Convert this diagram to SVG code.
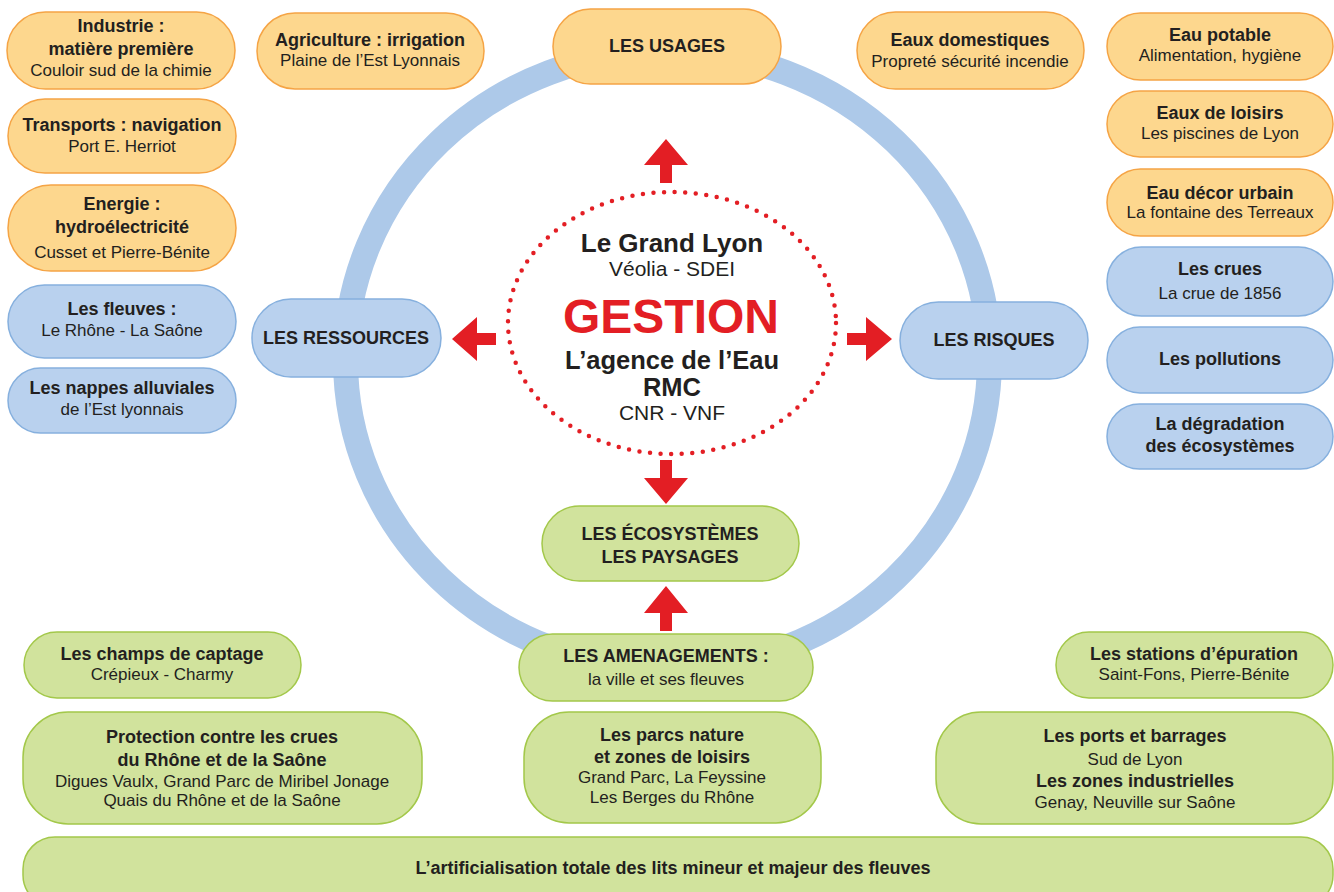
<svg xmlns="http://www.w3.org/2000/svg" width="1334" height="892" viewBox="0 0 1334 892">
<style>
text{font-family:"Liberation Sans",Arial,Helvetica,sans-serif;fill:#231f20;text-anchor:middle}
.b{font-weight:bold;font-size:18px}
.r{font-size:17px}
.o{fill:#fdd78e;stroke:#f5a445;stroke-width:1.5}
.u{fill:#b9d1ee;stroke:#86b0de;stroke-width:1.5}
.g{fill:#d1e39d;stroke:#a3c84a;stroke-width:1.5}
.arrow{fill:#e31e24}
</style>
<rect width="1334" height="892" fill="#ffffff"/>
<g id="ring">
<ellipse cx="667.5" cy="360" rx="322" ry="309" fill="none" stroke="#adc9e9" stroke-width="25"/>
</g>
<g id="gestion">
<ellipse cx="672" cy="323" rx="164" ry="131" fill="none" stroke="#e31e24" stroke-width="4.5" stroke-linecap="round" stroke-dasharray="0 10.6"/>
<text x="672" y="252" style="font-weight:bold;font-size:26px">Le Grand Lyon</text>
<text x="672" y="276" style="font-size:21px">Véolia - SDEI</text>
<text x="671" y="333" style="font-weight:bold;font-size:48px;fill:#e31e24">GESTION</text>
<text x="672" y="369" style="font-weight:bold;font-size:25.5px">L’agence de l’Eau</text>
<text x="672" y="396" style="font-weight:bold;font-size:25.5px">RMC</text>
<text x="672" y="420" style="font-size:21px">CNR - VNF</text>
</g>
<g id="connectors">
<polygon class="arrow" points="666,139 688,165 672,165 672,183 660,183 660,165 644,165"/>
<polygon class="arrow" points="660,460 672,460 672,478 688,478 666,504 644,478 660,478"/>
<polygon class="arrow" points="452,339 477,317 477,333 496,333 496,345 477,345 477,361"/>
<polygon class="arrow" points="847,333 866,333 866,317 892,339 866,361 866,345 847,345"/>
<polygon class="arrow" points="666,586 688,613 672,613 672,631 660,631 660,613 644,613"/>
</g>
<g id="industrie"><rect class="o" x="7" y="12" width="228" height="77" rx="38.5"/>
<text class="b" x="121" y="32">Industrie :</text><text class="b" x="121" y="55">matière première</text><text class="r" x="121" y="76">Couloir sud de la chimie</text></g>
<g id="agriculture"><rect class="o" x="257" y="13" width="227" height="76" rx="38"/>
<text class="b" x="370" y="46">Agriculture : irrigation</text><text class="r" x="370" y="66">Plaine de l’Est Lyonnais</text></g>
<g id="usages"><rect class="o" x="553" y="9" width="228" height="75" rx="37.5"/>
<text class="b" x="667" y="52">LES USAGES</text></g>
<g id="domestiques"><rect class="o" x="857" y="12" width="227" height="77" rx="38.5"/>
<text class="b" x="970" y="46">Eaux domestiques</text><text class="r" x="970" y="67">Propreté sécurité incendie</text></g>
<g id="potable"><rect class="o" x="1107" y="13" width="226" height="67" rx="33.5"/>
<text class="b" x="1220" y="41">Eau potable</text><text class="r" x="1220" y="61">Alimentation, hygiène</text></g>
<g id="loisirs"><rect class="o" x="1107" y="91" width="226" height="66" rx="33"/>
<text class="b" x="1220" y="119">Eaux de loisirs</text><text class="r" x="1220" y="139">Les piscines de Lyon</text></g>
<g id="decor"><rect class="o" x="1107" y="169" width="226" height="67" rx="33.5"/>
<text class="b" x="1220" y="199">Eau décor urbain</text><text class="r" x="1220" y="218">La fontaine des Terreaux</text></g>
<g id="transports"><rect class="o" x="8" y="99" width="228" height="74" rx="37"/>
<text class="b" x="122" y="131">Transports : navigation</text><text class="r" x="122" y="152">Port E. Herriot</text></g>
<g id="energie"><rect class="o" x="8" y="185" width="228" height="86" rx="43"/>
<text class="b" x="122" y="210">Energie :</text><text class="b" x="122" y="233">hydroélectricité</text><text class="r" x="122" y="258">Cusset et Pierre-Bénite</text></g>
<g id="fleuves"><rect class="u" x="8" y="285" width="228" height="73" rx="36.5"/>
<text class="b" x="122" y="315">Les fleuves :</text><text class="r" x="122" y="336">Le Rhône - La Saône</text></g>
<g id="nappes"><rect class="u" x="8" y="368" width="228" height="65" rx="32.5"/>
<text class="b" x="122" y="394">Les nappes alluviales</text><text class="r" x="122" y="415">de l’Est lyonnais</text></g>
<g id="ressources"><rect class="u" x="252" y="299" width="189" height="78" rx="39"/>
<text class="b" x="346" y="344">LES RESSOURCES</text></g>
<g id="risques"><rect class="u" x="900" y="302" width="188" height="77" rx="38.5"/>
<text class="b" x="994" y="346">LES RISQUES</text></g>
<g id="crues"><rect class="u" x="1107" y="247" width="226" height="69" rx="34.5"/>
<text class="b" x="1220" y="275">Les crues</text><text class="r" x="1220" y="299">La crue de 1856</text></g>
<g id="pollutions"><rect class="u" x="1107" y="327" width="226" height="66" rx="33"/>
<text class="b" x="1220" y="365">Les pollutions</text></g>
<g id="degradation"><rect class="u" x="1107" y="404" width="226" height="65" rx="32.5"/>
<text class="b" x="1220" y="430">La dégradation</text><text class="b" x="1220" y="452">des écosystèmes</text></g>
<g id="ecosystemes"><rect class="g" x="542" y="506" width="257" height="75" rx="37.5"/>
<text class="b" x="670" y="540">LES ÉCOSYSTÈMES</text><text class="b" x="670" y="563">LES PAYSAGES</text></g>
<g id="amenagements"><rect class="g" x="519" y="634" width="294" height="67" rx="33.5"/>
<text class="b" x="666" y="662">LES AMENAGEMENTS :</text><text class="r" x="666" y="685">la ville et ses fleuves</text></g>
<g id="parcs"><rect class="g" x="524" y="712" width="297" height="111" rx="45"/>
<text class="b" x="672" y="741">Les parcs nature</text><text class="b" x="672" y="763">et zones de loisirs</text><text class="r" x="672" y="783">Grand Parc, La Feyssine</text><text class="r" x="672" y="803">Les Berges du Rhône</text></g>
<g id="captage"><rect class="g" x="24" y="632" width="277" height="66" rx="33"/>
<text class="b" x="162" y="660">Les champs de captage</text><text class="r" x="162" y="680">Crépieux - Charmy</text></g>
<g id="protection"><rect class="g" x="23" y="712" width="399" height="112" rx="45"/>
<text class="b" x="222" y="743">Protection contre les crues</text><text class="b" x="222" y="766">du Rhône et de la Saône</text><text class="r" x="222" y="787">Digues Vaulx, Grand Parc de Miribel Jonage</text><text class="r" x="222" y="806">Quais du Rhône et de la Saône</text></g>
<g id="stations"><rect class="g" x="1056" y="632" width="277" height="66" rx="33"/>
<text class="b" x="1194" y="660">Les stations d’épuration</text><text class="r" x="1194" y="680">Saint-Fons, Pierre-Bénite</text></g>
<g id="ports"><rect class="g" x="936" y="712" width="397" height="112" rx="45"/>
<text class="b" x="1135" y="742">Les ports et barrages</text><text class="r" x="1135" y="765">Sud de Lyon</text><text class="b" x="1135" y="787">Les zones industrielles</text><text class="r" x="1135" y="808">Genay, Neuville sur Saône</text></g>
<g id="artificialisation"><rect class="g" x="23" y="837" width="1310" height="70" rx="32"/>
<text class="b" x="673" y="874">L’artificialisation totale des lits mineur et majeur des fleuves</text></g>
</svg>
